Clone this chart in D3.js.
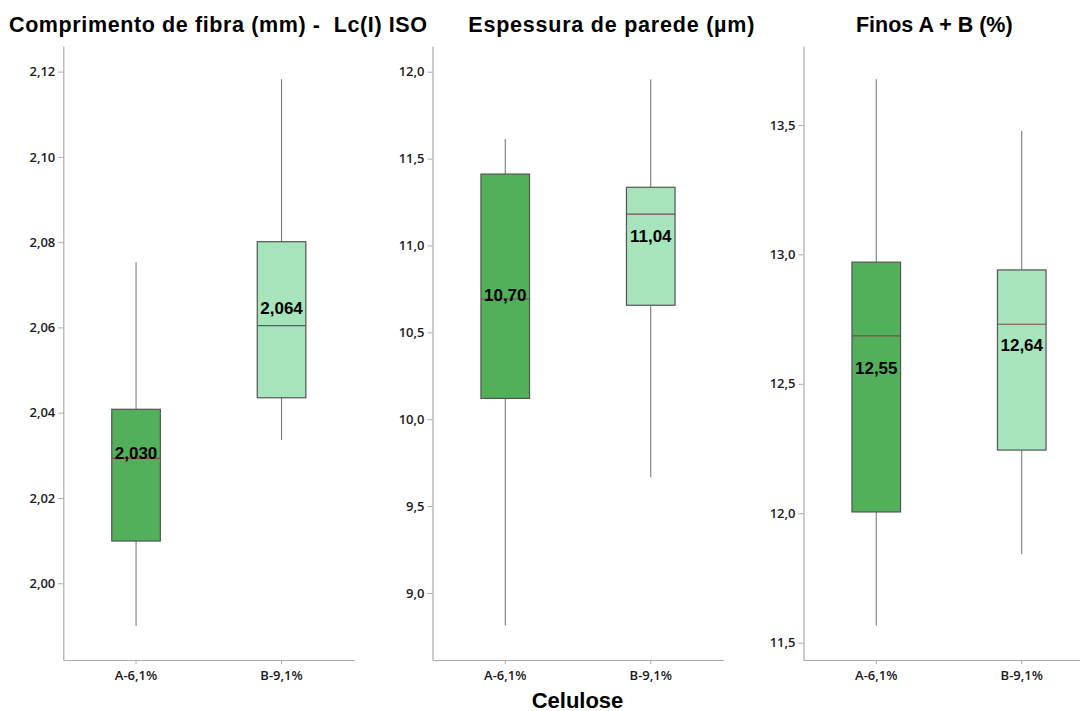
<!DOCTYPE html>
<html>
<head>
<meta charset="utf-8">
<script src="https://cdn.jsdelivr.net/npm/d3@7/dist/d3.min.js"></script>
<style>
  html, body { margin: 0; padding: 0; background: #fff; }
  svg { display: block; }
  .tick text { font-family: "Open Sans", "Noto Sans", sans-serif; font-size: 13px; font-weight: 600; fill: #1a1a1a; }
  .title { white-space: pre; }
</style>
</head>
<body>
<svg id="chart" width="1080" height="711"></svg>
<script>
// Groups shown on every panel
const categories = ["A-6,1%", "B-9,1%"];

// Panel titles
const titles = ["Comprimento de fibra (mm) -  Lc(I) ISO", "Espessura de parede (µm)", "Finos A + B (%)"];
const xTitle = "Celulose";

// Fibre length (mm): five-number summaries and means per group
const fibraMin    = [1.990, 2.0336];
const fibraQ1     = [2.0099, 2.0435];
const fibraMedian = [2.0293, 2.0604];
const fibraQ3     = [2.0408, 2.0801];
const fibraMax    = [2.0753, 2.1182];
const fibraMean   = [2.030, 2.064];
const fibraTicks  = [2.00, 2.02, 2.04, 2.06, 2.08, 2.10, 2.12];
const fibraDomain = [1.982, 2.126];

// Wall thickness (µm)
const paredeMin    = [8.812, 9.666];
const paredeQ1     = [10.120, 10.656];
const paredeMedian = [10.692, 11.181];
const paredeQ3     = [11.411, 11.335];
const paredeMax    = [11.613, 11.956];
const paredeMean   = [10.70, 11.04];
const paredeTicks  = [9.0, 9.5, 10.0, 10.5, 11.0, 11.5, 12.0];
const paredeDomain = [8.6145, 12.148];

// Fines A + B (%)
const finosMin    = [11.566, 11.842];
const finosQ1     = [12.005, 12.244];
const finosMedian = [12.685, 12.730];
const finosQ3     = [12.970, 12.940];
const finosMax    = [13.677, 13.477];
const finosMean   = [12.55, 12.64];
const finosTicks  = [11.5, 12.0, 12.5, 13.0, 13.5];
const finosDomain = [11.433, 13.805];

const groupFill = ["#52b05a", "#a6e4bc"];

const panels = [
  { title: titles[0], min: fibraMin, q1: fibraQ1, med: fibraMedian, q3: fibraQ3, max: fibraMax, mean: fibraMean,
    ticks: fibraTicks, domain: fibraDomain, digits: 2, meanDigits: 3,
    x0: 63.3, titleX: 218, titleLen: 418 },
  { title: titles[1], min: paredeMin, q1: paredeQ1, med: paredeMedian, q3: paredeQ3, max: paredeMax, mean: paredeMean,
    ticks: paredeTicks, domain: paredeDomain, digits: 1, meanDigits: 2,
    x0: 432.5, titleX: 611.3, titleLen: 286 },
  { title: titles[2], min: finosMin, q1: finosQ1, med: finosMedian, q3: finosQ3, max: finosMax, mean: finosMean,
    ticks: finosTicks, domain: finosDomain, digits: 1, meanDigits: 2,
    x0: 803.5, titleX: 934.3, titleLen: 156.7 }
];

const svg = d3.select("#chart");
const plotTop = 46, plotBottom = 660, panelW = 291;
const comma = (n, d) => n.toFixed(d).replace(".", ",");

panels.forEach(p => {
  const g = svg.append("g");

  const x = d3.scaleBand().domain(categories).range([p.x0, p.x0 + panelW]).padding(0);
  const y = d3.scaleLinear().domain(p.domain).range([plotBottom, plotTop]);
  const boxW = x.bandwidth() * 0.334;

  // axes
  const yAxis = d3.axisLeft(y).tickValues(p.ticks).tickFormat(v => comma(v, p.digits))
    .tickSize(5).tickSizeOuter(0).tickPadding(3);
  const ya = g.append("g").attr("transform", `translate(${p.x0},0)`).call(yAxis);

  const xAxis = d3.axisBottom(x).tickSize(4).tickSizeOuter(0).tickPadding(5);
  const xa = g.append("g").attr("transform", `translate(0,${plotBottom})`).call(xAxis);

  [ya, xa].forEach(a => {
    a.select(".domain").attr("stroke", "#ababab").attr("stroke-width", 1.2);
    a.selectAll(".tick line").attr("stroke", "#ababab");
  });
  xa.selectAll(".tick text").attr("dy", "0.85em");

  const idx = d3.range(categories.length);
  const cx = i => x(categories[i]) + x.bandwidth() / 2;

  // whiskers
  g.selectAll(".whisker").data(idx).join("line")
    .attr("x1", cx).attr("x2", cx)
    .attr("y1", i => y(p.max[i])).attr("y2", i => y(p.min[i]))
    .attr("stroke", "#6e6e6e").attr("stroke-width", 1);

  // boxes
  g.selectAll(".box").data(idx).join("rect")
    .attr("x", i => cx(i) - boxW / 2)
    .attr("width", boxW)
    .attr("y", i => y(p.q3[i]))
    .attr("height", i => y(p.q1[i]) - y(p.q3[i]))
    .attr("fill", i => groupFill[i])
    .attr("stroke", "#545454").attr("stroke-width", 1.2);

  // medians
  g.selectAll(".median").data(idx).join("line")
    .attr("x1", i => cx(i) - boxW / 2).attr("x2", i => cx(i) + boxW / 2)
    .attr("y1", i => y(p.med[i])).attr("y2", i => y(p.med[i]))
    .attr("stroke", "#7d4b55").attr("stroke-width", 1.2);

  // mean labels
  g.selectAll(".meanLabel").data(idx).join("text")
    .attr("x", cx)
    .attr("y", i => y(p.mean[i]) + 3.5)
    .attr("text-anchor", "middle")
    .attr("font-family", "Liberation Sans, Arial, sans-serif")
    .attr("font-weight", "bold")
    .attr("font-size", 17)
    .attr("fill", "#000")
    .text(i => comma(p.mean[i], p.meanDigits));

  // title
  svg.append("text")
    .attr("class", "title")
    .attr("x", p.titleX).attr("y", 32)
    .attr("text-anchor", "middle")
    .attr("font-family", "Liberation Sans, Arial, sans-serif")
    .attr("font-weight", "bold")
    .attr("font-size", 21.5)
    .attr("textLength", p.titleLen)
    .attr("lengthAdjust", "spacing")
    .attr("fill", "#000")
    .text(p.title);
});

svg.append("text")
  .attr("x", 577.5).attr("y", 707.5)
  .attr("text-anchor", "middle")
  .attr("font-family", "Liberation Sans, Arial, sans-serif")
  .attr("font-weight", "bold")
  .attr("font-size", 22)
  .attr("fill", "#000")
  .text(xTitle);
</script>
</body>
</html>
